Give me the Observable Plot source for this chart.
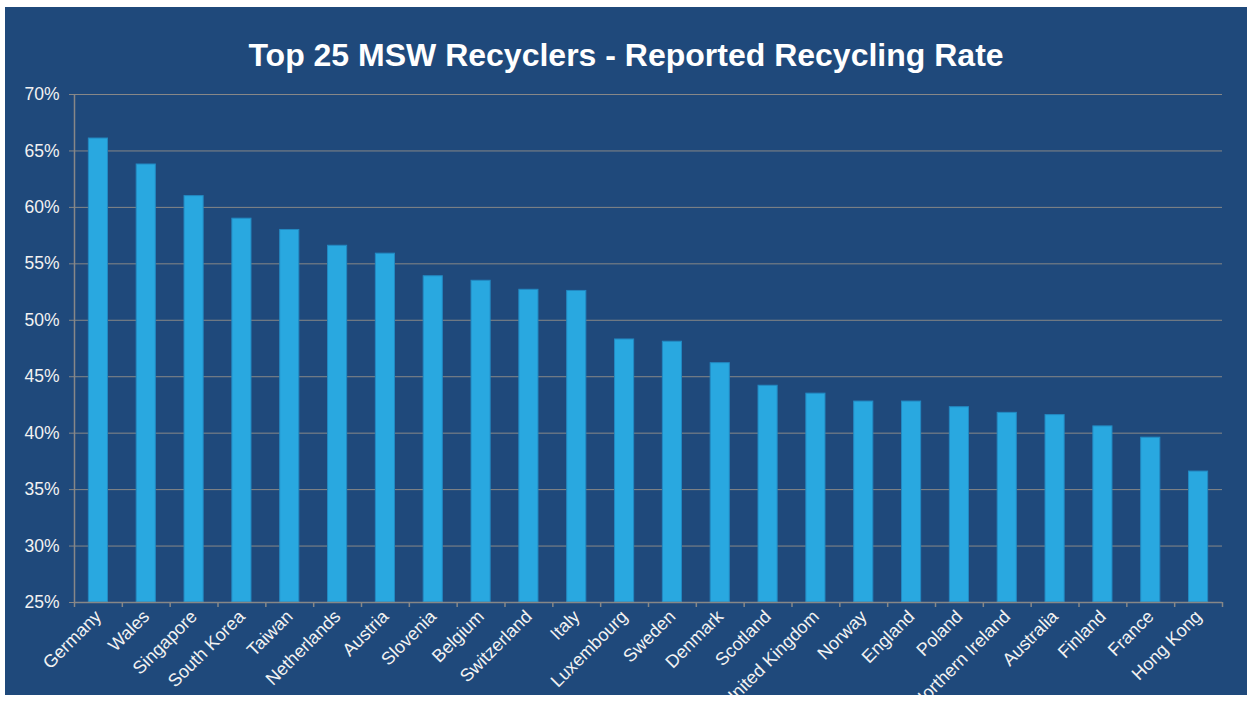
<!DOCTYPE html>
<html><head><meta charset="utf-8">
<script src="https://cdn.jsdelivr.net/npm/d3@7"></script>
<script src="https://cdn.jsdelivr.net/npm/@observablehq/plot@0.6"></script>
<style>
html,body{margin:0;padding:0;background:#fff;}
#panel{position:absolute;left:5px;top:7px;width:1242px;height:688px;background:#1F497B;font-family:"Liberation Sans",Arial,sans-serif;overflow:hidden;}
#title{position:absolute;left:0;top:32px;width:100%;text-align:center;color:#fff;font-weight:bold;font-size:32px;line-height:32px;}
#chart{position:absolute;left:0;top:70px;}
</style></head><body>
<div id="panel"><div id="title">Top 25 MSW Recyclers - Reported Recycling Rate</div><div id="chart"></div></div>
<script>
const countries = ["Germany","Wales","Singapore","South Korea","Taiwan","Netherlands","Austria","Slovenia","Belgium","Switzerland","Italy","Luxembourg","Sweden","Denmark","Scotland","United Kingdom","Norway","England","Poland","Northern Ireland","Australia","Finland","France","Hong Kong"];
const rates = [66.1,63.8,61.0,59.0,58.0,56.6,55.9,53.9,53.5,52.7,52.6,48.3,48.1,46.2,44.2,43.5,42.8,42.8,42.3,41.8,41.6,40.6,39.6,36.6];
const yTicks = [25,30,35,40,45,50,55,60,65,70];
const data = countries.map((c, i) => ({country: c, rate: rates[i]}));

const W = 1242, H = 618, mL = 69, mR = 25, mT = 17, mB = 93;
const step = (W - mL - mR) / countries.length;
const grey = "#878787";
const txt = "#F2F2F2";

const chart = Plot.plot({
  width: W, height: H, marginLeft: mL, marginRight: mR, marginTop: mT, marginBottom: mB,
  style: {background: "transparent", fontFamily: "'Liberation Sans', Arial, sans-serif", color: txt, overflow: "visible"},
  x: {domain: countries, paddingInner: 0.6, paddingOuter: 0.3, round: false, label: null},
  y: {domain: [25, 70], label: null},
  marks: [
    Plot.gridY(yTicks, {stroke: grey, strokeOpacity: 1, strokeWidth: 1}),
    Plot.barY(data, {x: "country", y1: 25, y2: "rate", fill: "#29A8E0", stroke: "#2389C2", strokeWidth: 1}),
    Plot.ruleY([25], {stroke: grey, strokeWidth: 1.5}),
    Plot.ruleX([countries[0]], {x: d => d, y1: 25, y2: 70, dx: -step / 2, stroke: grey, strokeWidth: 1.5}),
    Plot.ruleX(countries, {x: d => d, y1: 25, y2: 25, insetBottom: -5, dx: -step / 2, stroke: grey, strokeWidth: 1.5}),
    Plot.ruleX([countries[countries.length - 1]], {x: d => d, y1: 25, y2: 25, insetBottom: -5, dx: step / 2, stroke: grey, strokeWidth: 1.5}),
    Plot.axisY({ticks: yTicks, tickSize: 5, tickPadding: 10, tickFormat: d => d + "%", fontSize: 17.5, stroke: grey, fill: txt, label: null}),
    Plot.axisX({tickSize: 0, tickPadding: 11, tickRotate: -45, fontSize: 18, fill: txt, label: null})
  ]
});
document.getElementById("chart").appendChild(chart);
</script>
</body></html>
